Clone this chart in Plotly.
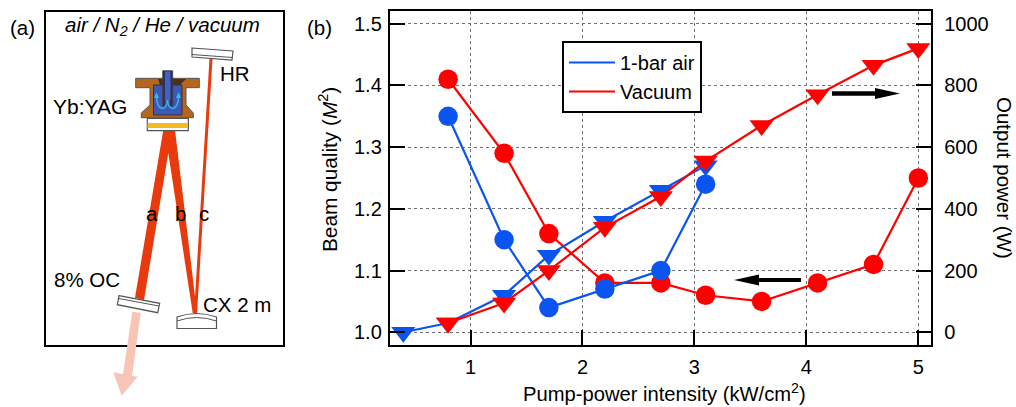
import plotly.graph_objects as go

FONT = "Liberation Sans"
RED = "#ff0000"
BLUE = "#0a55f2"

# ---- chart data -----------------------------------------------------------
vac_m2_x = [0.8, 1.3, 1.7, 2.2, 2.7, 3.1, 3.6, 4.1, 4.6, 5.0]
vac_m2_y = [1.41, 1.29, 1.16, 1.08, 1.08, 1.06, 1.05, 1.08, 1.11, 1.25]
air_m2_x = [0.8, 1.3, 1.7, 2.2, 2.7, 3.1]
air_m2_y = [1.35, 1.15, 1.04, 1.07, 1.10, 1.24]
air_pw_x = [0.4, 0.8, 1.3, 1.7, 2.2, 2.7, 3.1]
air_pw_y = [0, 30, 120, 250, 360, 460, 540]
vac_pw_x = [0.8, 1.3, 1.7, 2.2, 2.7, 3.1, 3.6, 4.1, 4.6, 5.0]
vac_pw_y = [30, 95, 200, 340, 440, 555, 670, 770, 865, 920]
x_ticks = [1, 2, 3, 4, 5]
m2_ticks = [1.0, 1.1, 1.2, 1.3, 1.4, 1.5]
pw_ticks = [0, 200, 400, 600, 800, 1000]

W, H = 1016, 407
L, R, T, B = 390, 931, 11, 345

fig = go.Figure()
marker_line = dict(width=0)


def series(x, y, color, symbol, size, yaxis):
    fig.add_trace(go.Scatter(
        x=x, y=y, mode="lines+markers", yaxis=yaxis, showlegend=False,
        line=dict(color=color, width=2.2),
        marker=dict(color=color, symbol=symbol, size=size, line=marker_line),
    ))


series(vac_m2_x, vac_m2_y, RED, "circle", 19.5, "y")
series(air_m2_x, air_m2_y, BLUE, "circle", 19.5, "y")
series(air_pw_x, air_pw_y, BLUE, "triangle-down", 21, "y2")
series(vac_pw_x, vac_pw_y, RED, "triangle-down", 21, "y2")

for name, color in [("1-bar air", BLUE), ("Vacuum", RED)]:
    fig.add_trace(go.Scatter(x=[None], y=[None], mode="lines", name=name,
                             line=dict(color=color, width=2.2), yaxis="y"))

# empty trace that brings the schematic's pixel-scale axes into being
fig.add_trace(go.Scatter(x=[None], y=[None], xaxis="x3", yaxis="y3", showlegend=False,
                         hoverinfo="skip"))


# ---- schematic (a) & arrows, drawn on a hidden pixel-scale axis pair --------
def poly(points, fill, line="rgba(0,0,0,0)", lw=0):
    d = "M " + " L ".join(f"{a},{b}" for a, b in points) + " Z"
    return dict(type="path", path=d, xref="x3", yref="y3", fillcolor=fill,
                line=dict(color=line, width=lw), layer="above")


def raw(d, fill="rgba(0,0,0,0)", line="rgba(0,0,0,0)", lw=0):
    return dict(type="path", path=d, xref="x3", yref="y3", fillcolor=fill,
                line=dict(color=line, width=lw), layer="above")


BEAM = "#e83a0c"
PALE = "#f7c4b6"
GREY = "#555555"
BROWN = "#b4661e"
shapes = [
    dict(type="rect", xref="x3", yref="y3", x0=45, x1=284, y0=11, y1=346,
         line=dict(color="black", width=2), fillcolor="rgba(0,0,0,0)", layer="above"),
    # output beam
    poly([(132.3, 311.7), (140.7, 313), (132, 376), (137.7, 376.7), (121.7, 395.7),
          (113.3, 372.3), (123, 374)], PALE),
    # beams
    poly([(209.5, 59), (212.5, 59), (197, 314), (194, 314)], BEAM),
    poly([(163.3, 130), (175, 130), (197, 313), (192.7, 313), (168.3, 153),
          (144, 300), (135, 297.7)], BEAM),
    # HR mirror
    poly([(192, 48), (233, 51), (232, 60), (192, 57)], "white", GREY, 1.2),
    raw("M 192,54.5 L 232.5,57.5", line=GREY, lw=1),
    # OC mirror
    poly([(119, 295.7), (159.7, 303.3), (157.7, 312.7), (117.3, 304.7)], "white", GREY, 1.2),
    raw("M 118.7,298.5 L 159,306", line=GREY, lw=1),
    # CX mirror
    raw("M 177,328.5 L 216.5,328.5 L 216.5,317 Q 196.5,310 177,317 Z", fill="white", line=GREY, lw=1.2),
    raw("M 177,321 Q 196.5,314 216.5,321", line=GREY, lw=1),
    # disk holder
    poly([(147.3, 118.3), (188.3, 118.3), (188.3, 130.7), (147.3, 130.7)], "white", GREY, 1.2),
    poly([(147.6, 123), (188, 123), (188, 128), (147.6, 128)], "#f2bb1f"),
    # copper mount
    poly([(135.7, 78.3), (199.3, 78.3), (199.3, 87.7), (186, 87.7), (186, 105),
          (193.3, 113), (193.3, 117.7), (141.3, 117.7), (141.3, 113), (150, 105),
          (150, 87.7), (135.7, 87.7)], BROWN, GREY, 1),
    poly([(158, 79), (186, 79), (180, 85), (160, 85)], "#4a3018"),
    # coolant chamber
    poly([(153.5, 85), (182, 85), (182, 115), (153.5, 115)], "#3e58b6", "#333333", 1),
    # jet tube
    poly([(162.7, 70.7), (172.7, 70.7), (172.7, 106), (170, 106), (170, 85), (165, 85),
          (165, 106), (162.7, 106)], "#2a2f55", "#444444", 0.8),
    poly([(165, 71.5), (170.5, 71.5), (170.5, 100), (165, 100)], "#4460c4"),
    # coolant flow
    raw("M 156.5,95 C 156.5,112 167,112 167.5,100", line="#39b7ea", lw=1.4),
    raw("M 178.5,95 C 178.5,112 168,112 167.5,100", line="#39b7ea", lw=1.4),
    poly([(156.5, 92), (154, 98), (159, 98)], "#39b7ea"),
    poly([(178.5, 92), (176, 98), (181, 98)], "#39b7ea"),
    # chart arrows
    poly([(832, 91.3), (875, 91.3), (875, 88), (900, 93.5), (875, 99), (875, 95.7), (832, 95.7)], "black"),
    poly([(801, 278), (759, 278), (759, 274.5), (734, 280), (759, 285.5), (759, 282), (801, 282)], "black"),
]


def label(text, x, y, size=20.5, anchor="left", angle=0):
    return dict(text=text, x=x, y=y, xref="x3", yref="y3", showarrow=False,
                xanchor=anchor, yanchor="middle", textangle=angle,
                font=dict(size=size, family=FONT, color="black"))


annotations = [
    label("(a)", 8, 27),
    label("(b)", 305, 27),
    label("<i>air / N<sub>2</sub> / He / vacuum</i>", 162, 26, anchor="center"),
    label("HR", 218, 73),
    label("Yb:YAG", 51, 106, size=21),
    label("8% OC", 52, 279),
    label("CX 2 m", 201, 304),
    label("a", 152, 213, anchor="center"),
    label("b", 180.5, 213, anchor="center"),
    label("c", 203.5, 213, anchor="center"),
    label("Beam quality (<i>M</i><sup>2</sup>)", 328, 170, size=20.8, anchor="center", angle=-90),
    label("Output power (W)", 1005, 178, size=20.5, anchor="center", angle=90),
    label("Pump-power intensity (kW/cm<sup>2</sup>)", 664.5, 392, size=20.2, anchor="center"),
]

axis_common = dict(showline=True, linecolor="black", linewidth=2.4, ticks="inside",
                   ticklen=15, tickwidth=2.4, tickcolor="black",
                   tickfont=dict(size=20, family=FONT, color="black"), zeroline=False)
grid = dict(showgrid=True, gridcolor="#707070", gridwidth=1, griddash="3px,3px")

fig.update_layout(
    width=W, height=H, margin=dict(l=0, r=0, t=0, b=0),
    paper_bgcolor="white", plot_bgcolor="rgba(0,0,0,0)",
    font=dict(family=FONT, size=20, color="black"),
    shapes=shapes, annotations=annotations,
    xaxis=dict(domain=[L / W, R / W], range=[0.281, 5.113], tickvals=x_ticks,
               mirror=True, ticklabelstandoff=3, **axis_common, **grid),
    yaxis=dict(domain=[1 - B / H, 1 - T / H], range=[0.9794, 1.5206], tickvals=m2_ticks,
               tickformat=".1f", anchor="x", ticklabelstandoff=2, **axis_common, **grid),
    yaxis2=dict(domain=[1 - B / H, 1 - T / H], range=[-41.2, 1041.2], tickvals=pw_ticks,
                overlaying="y", side="right", anchor="x", showgrid=False, ticklabelstandoff=7,
                **axis_common),
    xaxis3=dict(domain=[0, 1], range=[0, W], visible=False, anchor="y3"),
    yaxis3=dict(domain=[0, 1], range=[H, 0], visible=False, anchor="x3"),
    legend=dict(x=562 / W, y=1 - 41 / H, xanchor="left", yanchor="top",
                bgcolor="white", bordercolor="black", borderwidth=2,
                itemwidth=46, font=dict(size=20, family=FONT, color="black"),
                tracegroupgap=0),
)
fig.write_html("out.html", config={"displayModeBar": False},
               post_script="document.body.style.margin='0';")
